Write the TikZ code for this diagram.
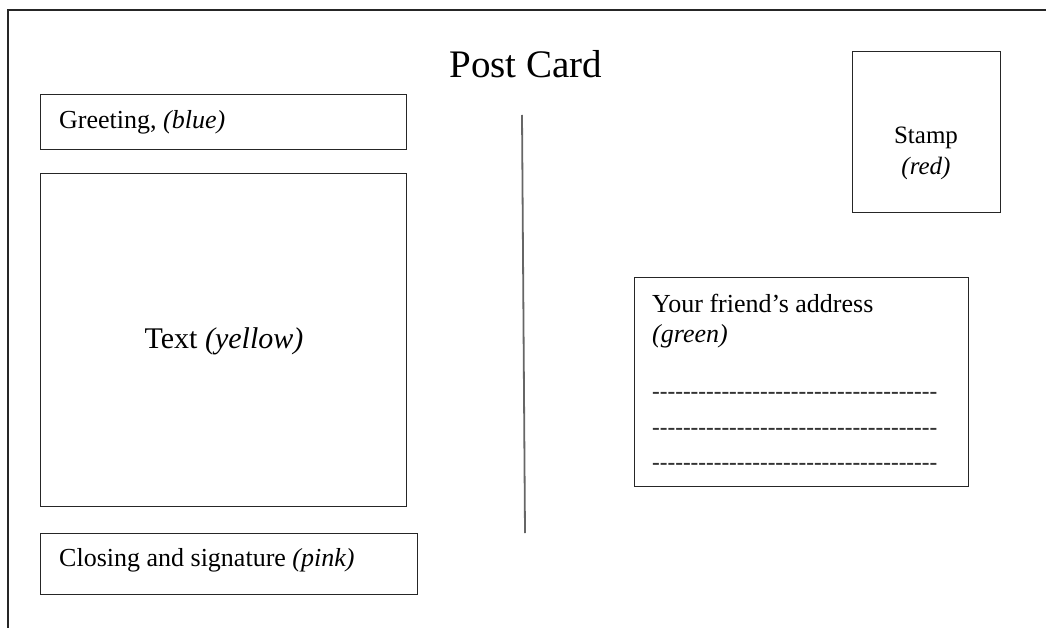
\documentclass[tikz,border=0pt]{standalone}
\usepackage{fontspec}
\setmainfont[Ligatures=TeXOff]{Liberation Serif}
\begin{document}
\begin{tikzpicture}[x=1pt,y=-1pt,
  box/.style={draw=black!85, line width=1.1pt, anchor=north west, inner sep=0pt},
  lbl/.style={anchor=base west, inner sep=0pt, font=\fontsize{26}{30}\selectfont},
  clbl/.style={anchor=base, inner sep=0pt, font=\fontsize{25}{30}\selectfont},
  dashline/.style={anchor=base west, inner sep=0pt, text=black!80, font=\fontsize{26}{30}\selectfont, xscale=0.89}]
\useasboundingbox (0,0) rectangle (1046,628);
% card outline
\coordinate (cbl) at (8,628);
\coordinate (ctl) at (8,10);
\coordinate (ctr) at (1046,10);
\draw[black!85, line width=1.1pt] (cbl) -- (ctl) -- (ctr);
% title
\node[anchor=base, inner sep=0pt, font=\fontsize{39}{44}\selectfont] (title) at (526,78) {Post Card};
% boxes
\node[box, minimum width=366pt, minimum height=55pt] (greet) at (40,94) {};
\node[box, minimum width=366pt, minimum height=333pt] (text) at (40,173) {};
\node[box, minimum width=377pt, minimum height=61pt] (closing) at (40,533) {};
\node[box, minimum width=148pt, minimum height=161pt] (stamp) at (852,51) {};
\node[box, minimum width=334pt, minimum height=209pt] (addr) at (634,277) {};
% divider
\coordinate (dtop) at (522,115);
\coordinate (dbot) at (525,533);
\draw[black!60, line width=1.8pt] (dtop) -- (dbot);
% labels
\node[lbl] (greettxt) at (59,129) {Greeting, \textit{(blue)}};
\node[anchor=base, inner sep=0pt, font=\fontsize{30}{34}\selectfont] (texttxt) at (224,348) {Text \textit{(yellow)}};
\node[lbl] (closingtxt) at (59,566) {Closing and signature \textit{(pink)}};
\node[clbl] (stamptxt) at (926,144) {Stamp};
\node[clbl] (stampcol) at (926,175) {\textit{(red)}};
\node[lbl] (addr1) at (652,312) {Your friend’s address};
\node[lbl] (addr2) at (652,342) {\textit{(green)}};
\node[dashline] (dash1) at (652,399) {-------------------------------------};
\node[dashline] (dash2) at (652,435) {-------------------------------------};
\node[dashline] (dash3) at (652,470) {-------------------------------------};
\end{tikzpicture}
\end{document}
